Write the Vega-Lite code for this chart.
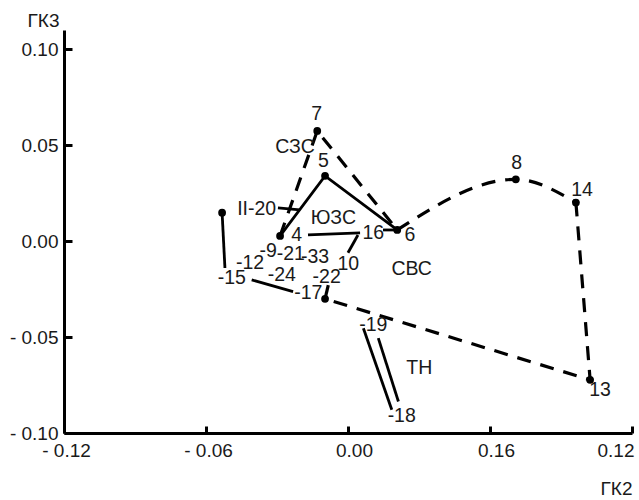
{
  "$schema": "https://vega.github.io/schema/vega-lite/v6.json",
  "width": 568,
  "height": 403,
  "autosize": {"type": "none"},
  "padding": {"left": 64, "top": 30, "right": 7, "bottom": 67},
  "background": "white",
  "config": {
    "view": {"stroke": null},
    "font": "Liberation Sans",
    "axis": {
      "domainColor": "black", "domainWidth": 3,
      "tickColor": "black", "tickWidth": 3, "tickSize": -8,
      "grid": false,
      "labelFont": "Liberation Sans", "labelFontSize": 19, "labelColor": "#1a1a1a",
      "titleFont": "Liberation Sans", "titleFontSize": 19, "titleFontWeight": "normal", "titleColor": "#1a1a1a"
    }
  },
  "datasets": {
    "solid": [
      {"seg": "a", "ord": 1, "x": -0.0287, "y": 0.0027},
      {"seg": "a", "ord": 2, "x": -0.0097, "y": 0.0340},
      {"seg": "a", "ord": 3, "x": 0.0208, "y": 0.0058},
      {"seg": "b", "ord": 1, "x": -0.0532, "y": 0.0148},
      {"seg": "b", "ord": 2, "x": -0.0520, "y": -0.0140},
      {"seg": "c", "ord": 1, "x": -0.0407, "y": -0.0202},
      {"seg": "c", "ord": 2, "x": -0.0232, "y": -0.0263},
      {"seg": "d", "ord": 1, "x": -0.0296, "y": 0.0173},
      {"seg": "d", "ord": 2, "x": -0.0203, "y": 0.0163},
      {"seg": "e", "ord": 1, "x": -0.0169, "y": 0.0032},
      {"seg": "e", "ord": 2, "x": 0.0051, "y": 0.0043},
      {"seg": "f", "ord": 1, "x": 0.0042, "y": 0.0032},
      {"seg": "f", "ord": 2, "x": 0.0000, "y": -0.0061},
      {"seg": "g", "ord": 1, "x": 0.0148, "y": 0.0058},
      {"seg": "g", "ord": 2, "x": 0.0208, "y": 0.0058},
      {"seg": "h", "ord": 1, "x": 0.0065, "y": -0.0454},
      {"seg": "h", "ord": 2, "x": 0.0185, "y": -0.0879},
      {"seg": "i", "ord": 1, "x": 0.0128, "y": -0.0506},
      {"seg": "i", "ord": 2, "x": 0.0213, "y": -0.0836}
    ],
    "dashed": [
      {"seg": "a", "ord": 1, "x": -0.0287, "y": 0.0027},
      {"seg": "a", "ord": 2, "x": -0.0130, "y": 0.0574},
      {"seg": "a", "ord": 3, "x": 0.0208, "y": 0.0058},
      {"seg": "c", "ord": 1, "x": 0.0963, "y": 0.0201},
      {"seg": "c", "ord": 2, "x": 0.1023, "y": -0.0723},
      {"seg": "c", "ord": 3, "x": -0.0097, "y": -0.0301},
      {"seg": "d", "ord": 1, "x": -0.0097, "y": -0.0301},
      {"seg": "d", "ord": 2, "x": -0.0082, "y": -0.0223}
    ],
    "curve": [
      {"seg": "b", "ord": 1, "x": 0.0208, "y": 0.0058},
      {"seg": "b", "ord": 2, "x": 0.0709, "y": 0.0322},
      {"seg": "b", "ord": 3, "x": 0.0963, "y": 0.0201}
    ],
    "points": [
      {"x": -0.0130, "y": 0.0574},
      {"x": -0.0097, "y": 0.0340},
      {"x": -0.0287, "y": 0.0027},
      {"x": 0.0208, "y": 0.0058},
      {"x": -0.0532, "y": 0.0148},
      {"x": -0.0097, "y": -0.0301},
      {"x": 0.0709, "y": 0.0322},
      {"x": 0.0963, "y": 0.0201},
      {"x": 0.1023, "y": -0.0723}
    ],
    "labels": [
      {"t": "7", "x": -0.0132, "y": 0.0663},
      {"t": "СЗС", "x": -0.0224, "y": 0.0492},
      {"t": "5", "x": -0.0104, "y": 0.0419},
      {"t": "II-20", "x": -0.0386, "y": 0.0166},
      {"t": "ЮЗС", "x": -0.0062, "y": 0.0119},
      {"t": "4", "x": -0.0217, "y": 0.0032},
      {"t": "16", "x": 0.0107, "y": 0.0041},
      {"t": "6", "x": 0.0262, "y": 0.0032},
      {"t": "-9", "x": -0.0337, "y": -0.0050},
      {"t": "-21", "x": -0.0242, "y": -0.0068},
      {"t": "-33", "x": -0.0139, "y": -0.0081},
      {"t": "-12", "x": -0.0414, "y": -0.0115},
      {"t": "10", "x": 0.0001, "y": -0.0119},
      {"t": "-24", "x": -0.0280, "y": -0.0176},
      {"t": "-15", "x": -0.0491, "y": -0.0193},
      {"t": "-22", "x": -0.0090, "y": -0.0186},
      {"t": "-17", "x": -0.0168, "y": -0.0268},
      {"t": "СВС", "x": 0.0269, "y": -0.0145},
      {"t": "8", "x": 0.0713, "y": 0.0406},
      {"t": "14", "x": 0.0989, "y": 0.0267},
      {"t": "13", "x": 0.1065, "y": -0.0775},
      {"t": "-19", "x": 0.0107, "y": -0.0436},
      {"t": "ТН", "x": 0.0301, "y": -0.0662},
      {"t": "-18", "x": 0.0227, "y": -0.0914}
    ]
  },
  "layer": [
    {
      "data": {"name": "solid"},
      "mark": {"type": "line", "color": "black", "strokeWidth": 2.8},
      "encoding": {
        "x": {
          "field": "x", "type": "quantitative",
          "scale": {"domain": [-0.12, 0.12], "nice": false, "zero": false},
          "axis": {
            "values": [-0.12, -0.06, 0, 0.06, 0.12],
            "labelExpr": "abs(datum.value - 0.06) < 0.001 ? '0.16' : (datum.value < -0.0001 ? '- ' + format(-datum.value, '.2f') : format(abs(datum.value), '.2f'))",
            "labelFlush": false, "labelOverlap": false, "labelPadding": 15,
            "labelAlign": {"condition": {"test": "datum.value > 0.1", "value": "right"}, "value": "center"},
            "labelOffset": {"condition": {"test": "datum.value > -0.01 && datum.value < 0.1", "value": 6}, "value": 2},
            "domainWidth": 3, "tickWidth": 3, "tickSize": -7,
            "title": "ГК2", "titleAngle": 0, "titleX": 552, "titleY": 55,
            "titleAlign": "center", "titleBaseline": "middle"
          }
        },
        "y": {
          "field": "y", "type": "quantitative",
          "scale": {"domain": [-0.1, 0.11], "nice": false, "zero": false},
          "axis": {
            "values": [-0.1, -0.05, 0, 0.05, 0.1],
            "labelExpr": "datum.value < -0.0001 ? '- ' + format(-datum.value, '.2f') : format(abs(datum.value), '.2f')",
            "labelFlush": false, "labelOverlap": false, "labelPadding": 14,
            "domainWidth": 3, "tickWidth": 3, "tickSize": -8,
            "title": "ГК3", "titleAngle": 0, "titleX": -21, "titleY": -10,
            "titleAlign": "center", "titleBaseline": "middle"
          }
        },
        "detail": {"field": "seg"},
        "order": {"field": "ord"}
      }
    },
    {
      "data": {"name": "dashed"},
      "mark": {"type": "line", "color": "black", "strokeWidth": 3.2, "strokeDash": [14, 10]},
      "encoding": {
        "x": {"field": "x", "type": "quantitative"},
        "y": {"field": "y", "type": "quantitative"},
        "detail": {"field": "seg"},
        "order": {"field": "ord"}
      }
    },
    {
      "data": {"name": "curve"},
      "mark": {"type": "line", "color": "black", "strokeWidth": 3.2, "strokeDash": [14, 10], "interpolate": "monotone"},
      "encoding": {
        "x": {"field": "x", "type": "quantitative"},
        "y": {"field": "y", "type": "quantitative"},
        "detail": {"field": "seg"},
        "order": {"field": "ord"}
      }
    },
    {
      "data": {"name": "points"},
      "mark": {"type": "circle", "color": "black", "opacity": 1, "size": 60},
      "encoding": {
        "x": {"field": "x", "type": "quantitative"},
        "y": {"field": "y", "type": "quantitative"}
      }
    },
    {
      "data": {"name": "labels"},
      "mark": {"type": "text", "color": "#1a1a1a", "fontSize": 19.5, "font": "Liberation Sans", "align": "center", "baseline": "middle"},
      "encoding": {
        "x": {"field": "x", "type": "quantitative"},
        "y": {"field": "y", "type": "quantitative"},
        "text": {"field": "t"}
      }
    }
  ]
}
